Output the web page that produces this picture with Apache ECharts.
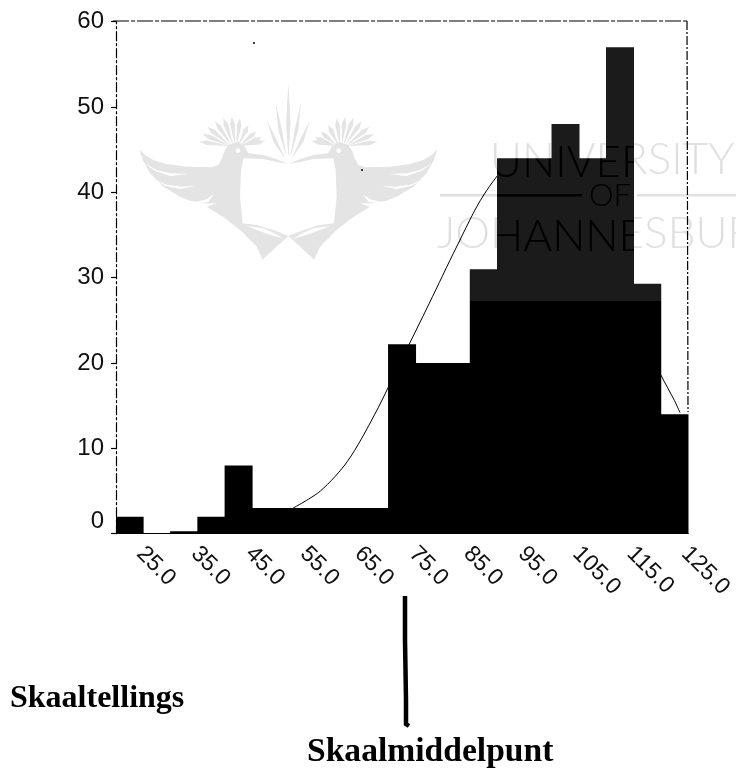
<!DOCTYPE html>
<html><head><meta charset="utf-8">
<style>html,body{margin:0;padding:0;background:#fff}#c{width:736px;height:768px}
#wrap{position:relative;width:736px;height:768px;overflow:hidden}
#burn{position:absolute;left:0;top:0;width:736px;height:768px;pointer-events:none;mix-blend-mode:color-burn;font-family:Lato;font-weight:300;color:#e0e0e0;line-height:1}
#burn span{position:absolute;white-space:nowrap}
</style>
<script src="https://cdn.jsdelivr.net/npm/echarts@6/dist/echarts.min.js"></script>
</head><body><div id="wrap"><div id="c"></div>
<div id="burn">
<span style="left:490px;top:138px;font-size:44px">UNIVERSITY</span>
<span style="left:589px;top:179px;font-size:31px">OF</span>
<span style="left:437px;top:212px;font-size:44px">JOHANNESBURG</span>
</div></div>
<script>
const binLabels = ['25.0','30.0','35.0','40.0','45.0','50.0','55.0','60.0','65.0','70.0','75.0','80.0','85.0','90.0','95.0','100.0','105.0','110.0','115.0','120.0','125.0'];
const binCounts = [2,0,0.3,2,8,3,3,3,3,3,22.2,20,20,31,44,44,48,44,57,29.3,14];
const curveX = [55,60,65,70,75,80,85,90,95,100,105,110,115,120,122.5,125,126];
const curveY = [3,5,8.5,14,20.5,27,33.6,39.7,43.4,43.8,43.8,41,32,22,18.6,15.6,14.2];

const chart = echarts.init(document.getElementById('c'), null, {renderer:'canvas'});
const G = '#e4e4e4';
const wm = [];
function side(x, sx){
  const kids = [];
  const poly = (pts, fill) => kids.push({type:'polygon', z:0, shape:{points:pts}, style:{fill:fill}, silent:true});
  poly([[118,418],[135,435],[160,450],[200,462],[260,470],[335,472],[355,465],[366,445],[372,425],[385,405],[415,395],[435,410],[445,430],[490,435],[530,448],[565,462],[530,456],[490,447],[430,445],[423,480],[420,560],[428,640],[470,645],[520,660],[565,678],[495,742],[488,750],[470,710],[420,660],[375,625],[320,590],[350,580],[290,580],[240,560],[190,530],[150,490],[128,450]], G);
  poly([[130,458],[170,480],[210,490],[265,492],[210,498],[165,482]], '#fff');
  poly([[165,510],[200,524],[245,530],[285,528],[240,537],[195,527]], '#fff');
  poly([[250,570],[290,575],[320,568],[342,552],[325,575],[290,582]], '#fff');
  poly([[440,648],[490,655],[520,668],[552,686],[510,674],[470,660]], '#fff');
  [[298,395],[308,372],[322,350],[345,333],[370,323],[395,320],[420,325],[445,345],[468,365],[485,382],[495,393]].forEach(t => {
    const bx = 405 + (t[0]-395)*0.18, by = 408, dx = t[0]-bx, dy = t[1]-by, L = Math.hypot(dx,dy), nx = -dy/L, ny = dx/L;
    poly([[bx,by],[bx+dx*.75+nx*7,by+dy*.75+ny*7],[t[0],t[1]],[bx+dx*.75-nx*7,by+dy*.75-ny*7]], G);
  });
  kids.push({type:'circle', z:0, shape:{cx:414,cy:422,r:7}, style:{fill:'#fff'}, silent:true});
  poly([[565,225],[571,340],[565,440],[559,340]], G);
  poly([[527,278],[546,360],[560,445],[535,360]], G);
  poly([[500,330],[530,390],[556,448],[520,395]], G);
  return {type:'group', x:x, y:10, scaleX:sx, scaleY:1/3, children:kids, silent:true};
}
wm.push(side(100,1/3), side(100+1130/3,-1/3));
const gt = {fill:'#e2e2e2', fontFamily:'Lato', fontWeight:300};
wm.push(
  {type:'text', z:0, x:490, y:138, silent:true, style:Object.assign({text:'UNIVERSITY', fontSize:44}, gt)},
  {type:'text', z:0, x:589, y:179, silent:true, style:Object.assign({text:'OF', fontSize:31}, gt)},
  {type:'text', z:0, x:437, y:212, silent:true, style:Object.assign({text:'JOHANNESBURG', fontSize:44}, gt)},
  {type:'rect', z:0, silent:true, shape:{x:440,y:194,width:142,height:2.5}, style:{fill:'#e2e2e2'}},
  {type:'rect', z:0, silent:true, shape:{x:637,y:194,width:99,height:2.5}, style:{fill:'#e2e2e2'}},
  {type:'rect', z:10, silent:true, shape:{x:440,y:194,width:142,height:2.5}, style:{fill:'#e0e0e0',blend:'color-burn'}}
);
const frame = [
  {type:'line', z:1, silent:true, shape:{x1:113,y1:21,x2:687,y2:21}, style:{stroke:'#000',lineWidth:1.2,lineDash:[16,2,4,2]}},
  {type:'line', z:1, silent:true, shape:{x1:687,y1:21,x2:688,y2:412}, style:{stroke:'#000',lineWidth:1.2,lineDash:[9,2,2,2]}},
  {type:'polyline', z:5, silent:true, shape:{points:[[405,596],[405,640],[406,700],[406,724],[409,726]]}, style:{stroke:'#000',fill:null,lineWidth:4.5}},
  {type:'circle', z:5, silent:true, shape:{cx:254,cy:43,r:1}, style:{fill:'#000'}},
  {type:'circle', z:5, silent:true, shape:{cx:362,cy:170,r:1}, style:{fill:'#000'}},
  {type:'text', z:5, x:10, y:683, silent:true, style:{text:'Skaaltellings', fontFamily:'Liberation Serif', fontWeight:'bold', fontSize:32, fill:'#000'}},
  {type:'text', z:5, x:307, y:735, silent:true, style:{text:'Skaalmiddelpunt', fontFamily:'Liberation Serif', fontWeight:'bold', fontSize:33.6, fill:'#000'}}
];
const barFill = {type:'linear',x:0,y:0,x2:0,y2:768,global:true,colorStops:[{offset:0,color:'#1b1b1b'},{offset:301/768,color:'#1b1b1b'},{offset:301/768,color:'#000'},{offset:1,color:'#000'}]};
chart.setOption({
  animation:false,
  backgroundColor:'#fff',
  grid:{left:116,width:574,top:21.7,height:512,containLabel:false},
  xAxis:[
    {type:'category', data:binLabels, boundaryGap:true,
     axisLine:{lineStyle:{color:'#000',width:1.2}},
     axisTick:{alignWithLabel:true, interval:1, length:5, lineStyle:{color:'#000',width:1.2}},
     axisLabel:{interval:1, rotate:-45, color:'#111', fontFamily:'Liberation Sans', fontSize:23, margin:6, padding:[0,0,0,15], hideOverlap:false},
     splitLine:{show:false}},
    {type:'value', min:22.5, max:127.5, show:false, splitLine:{show:false}}
  ],
  yAxis:{type:'value', min:0, max:60, interval:10,
     axisLine:{show:true, lineStyle:{color:'#000',width:1.2,type:[9,3,2,3]}},
     axisTick:{show:true, length:5, lineStyle:{color:'#000',width:1.2}},
     axisLabel:{color:'#111', fontFamily:'Liberation Sans', fontSize:24, margin:12,
       formatter:v => v===0 ? '{z|0}' : String(v),
       rich:{z:{fontFamily:'Liberation Sans', fontSize:24, color:'#111', padding:[0,0,24,0]}}},
     splitLine:{show:false}},
  series:[
    {name:'Normaal', type:'line', xAxisIndex:1, z:3, smooth:0.3, showSymbol:false,
     lineStyle:{color:'#000',width:1}, data:curveX.map((x,i)=>[x,curveY[i]])},
    {name:'Skaaltellings', type:'bar', xAxisIndex:0, z:4, barWidth:28, barGap:'0%', large:true, largeThreshold:1, data:binCounts,
     itemStyle:{color:barFill}}
  ],
  graphic:{elements:wm.concat(frame)}
});
</script></body></html>
